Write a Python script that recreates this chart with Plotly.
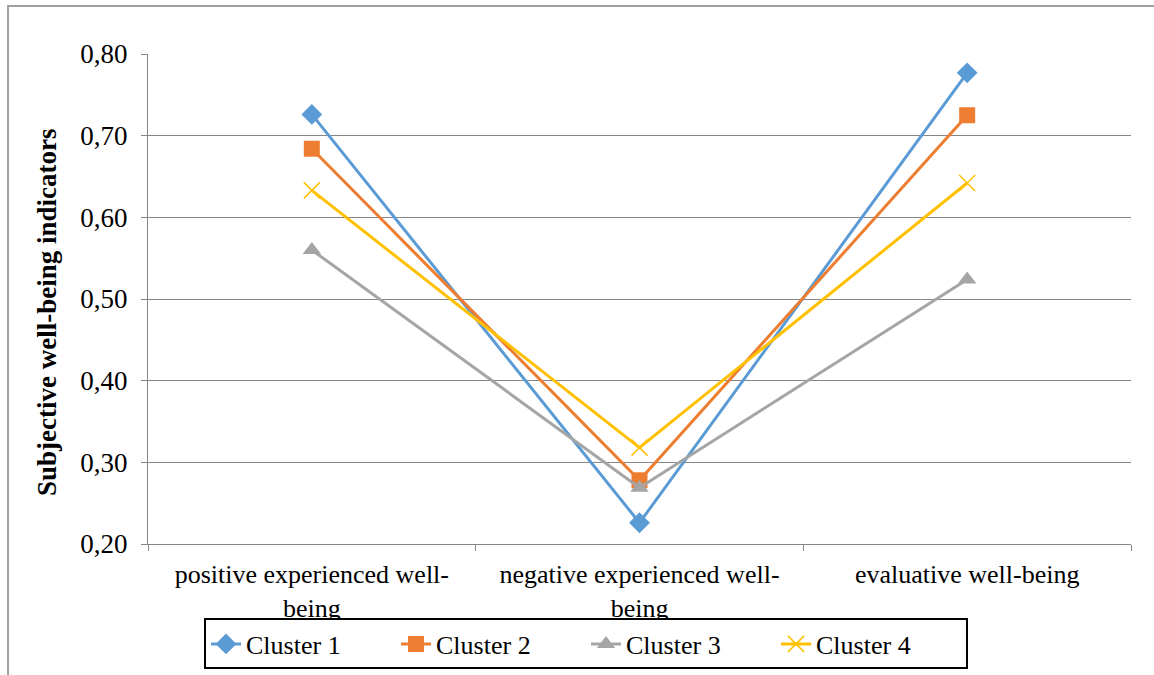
import plotly.graph_objects as go

categories = ["positive experienced well-<br>being", "negative experienced well-<br>being", "evaluative well-being"]
cluster_names = ["Cluster 1", "Cluster 2", "Cluster 3", "Cluster 4"]
cluster_1 = [0.726, 0.226, 0.777]
cluster_2 = [0.684, 0.278, 0.725]
cluster_3 = [0.560, 0.269, 0.524]
cluster_4 = [0.633, 0.318, 0.642]
y_ticks = [0.2, 0.3, 0.4, 0.5, 0.6, 0.7, 0.8]

series = [cluster_1, cluster_2, cluster_3, cluster_4]
colors = ["#5B9BD5", "#ED7D31", "#A5A5A5", "#FFC000"]
symbols = ["diamond", "square", "triangle-up", "x-thin"]
sizes = [16, 16, 16, 16]

font_family = "Liberation Serif"

fig = go.Figure()
for name, vals, col, sym, sz in zip(cluster_names, series, colors, symbols, sizes):
    fig.add_trace(go.Scatter(
        x=categories, y=vals, name=name, mode="lines+markers",
        line=dict(color=col, width=3),
        marker=dict(symbol=sym, size=sz, color=col,
                    line=dict(color=col, width=1.5 if sym == "x-thin" else 0)),
    ))

fig.update_layout(
    width=1154, height=675,
    margin=dict(l=148, r=23, t=54, b=131, autoexpand=False),
    paper_bgcolor="white", plot_bgcolor="white",
    separators=",.",
    font=dict(family=font_family, color="black", size=26),
    showlegend=True,
    legend=dict(
        orientation="h", x=0.4456, xanchor="center", y=-0.152, yanchor="top",
        bordercolor="black", borderwidth=2, font=dict(size=26, family=font_family),
        entrywidth=145, entrywidthmode="pixels", tracegroupgap=0,
    ),
    xaxis=dict(
        type="category", range=[-0.5, 2.5], tickson="boundaries",
        ticks="outside", ticklen=6, tickcolor="#868686",
        showline=True, linecolor="#868686", linewidth=1,
        showgrid=False, tickfont=dict(size=26, family=font_family),
        ticklabelstandoff=7, automargin=False,
    ),
    yaxis=dict(
        range=[0.2, 0.8], tickvals=y_ticks, tickformat=".2f",
        ticks="outside", ticklen=6, tickcolor="#868686",
        showline=True, linecolor="#868686", linewidth=1,
        showgrid=True, gridcolor="#868686", gridwidth=1,
        tickfont=dict(size=27, family=font_family),
        ticklabelstandoff=8, automargin=False, zeroline=False,
    ),
)

# vertical axis title
fig.add_annotation(
    xref="paper", yref="paper", x=-0.1027, y=0.4714,
    xanchor="center", yanchor="middle",
    text="<b>Subjective well-being indicators</b>", textangle=-90,
    showarrow=False, font=dict(size=27, family=font_family, color="black"),
)

# outer chart frame
fig.add_shape(type="rect", xref="paper", yref="paper",
              x0=-0.1424, x1=1.05, y0=-0.35, y1=1.098,
              line=dict(color="#A0A0A0", width=2), layer="below")

fig.write_html("out.html")
